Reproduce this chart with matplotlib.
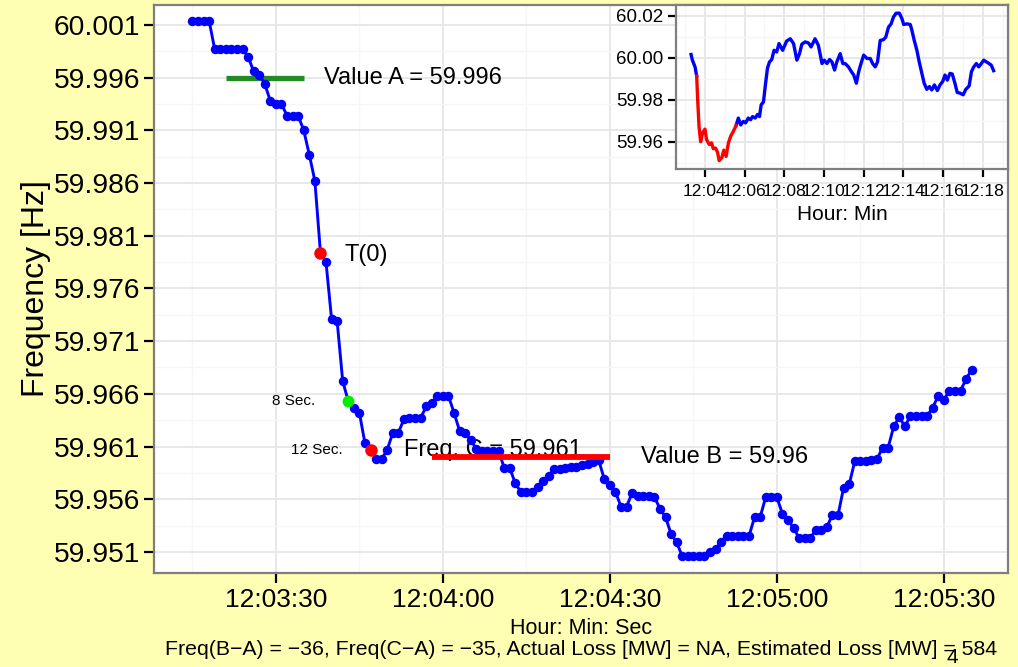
import numpy as np
import matplotlib
matplotlib.use('Agg')
import matplotlib.pyplot as plt
from matplotlib.ticker import FixedLocator, FuncFormatter


# main trace: one sample per second starting 12:03:15
main_start = 12*3600 + 3*60 + 15
main_freq = [
    60.0014, 60.0014, 60.0014, 60.0014, 59.9987, 59.9987, 59.9987, 59.9987, 59.9987, 59.9987,
    59.9980, 59.9966, 59.9963, 59.9954, 59.9938, 59.9935, 59.9935, 59.9924, 59.9924, 59.9924,
    59.9910, 59.9887, 59.9862, 59.9794, 59.9785, 59.9731, 59.9729, 59.9672, 59.9653, 59.9647,
    59.9642, 59.9613, 59.9607, 59.9598, 59.9598, 59.9607, 59.9623, 59.9623, 59.9636, 59.9637,
    59.9637, 59.9637, 59.9648, 59.9651, 59.9658, 59.9658, 59.9658, 59.9642, 59.9625, 59.9623,
    59.9616, 59.9608, 59.9606, 59.9606, 59.9606, 59.9606, 59.9590, 59.9590, 59.9575, 59.9567,
    59.9567, 59.9567, 59.9572, 59.9577, 59.9582, 59.9589, 59.9589, 59.9590, 59.9591, 59.9591,
    59.9592, 59.9593, 59.9595, 59.9597, 59.9579, 59.9573, 59.9567, 59.9553, 59.9553, 59.9566,
    59.9563, 59.9563, 59.9563, 59.9562, 59.9551, 59.9543, 59.9527, 59.9519, 59.9506, 59.9506,
    59.9506, 59.9506, 59.9506, 59.9510, 59.9513, 59.9519, 59.9525, 59.9525, 59.9525, 59.9525,
    59.9525, 59.9543, 59.9543, 59.9562, 59.9562, 59.9562, 59.9546, 59.9540, 59.9533, 59.9523,
    59.9523, 59.9523, 59.9531, 59.9531, 59.9534, 59.9545, 59.9545, 59.9571, 59.9574, 59.9596,
    59.9596, 59.9596, 59.9597, 59.9598, 59.9609, 59.9609, 59.9629, 59.9638, 59.9629, 59.9639,
    59.9639, 59.9639, 59.9639, 59.9647, 59.9658, 59.9654, 59.9663, 59.9663, 59.9663, 59.9674,
    59.9683,
]

# highlighted samples (seconds after 12:03:15)
t0_idx = 23
sec8_idx = 28
sec12_idx = 32

value_a = 59.996
value_b = 59.96
freq_c = 59.961
value_a_span = ['12:03:21', '12:03:35']
value_b_span = ['12:03:58', '12:04:30']

# overview trace (seconds after 12:04:00)
inset_sec = [
    -42, -38, -30, -25, -22, -18, -13, -7, 0, 5, 13, 20, 25, 32, 38, 43, 51, 57, 64, 71,
    78, 86, 94, 101, 108, 116, 123, 131, 138, 144, 152, 159, 165, 170, 177, 182, 189, 195, 202, 209,
    217, 224, 235, 247, 258, 268, 278, 286, 293, 303, 313, 321, 333, 343, 354, 361, 369, 377, 384, 392,
    399, 409, 417, 424, 434, 443, 450, 458, 465, 472, 480, 490, 500, 507, 515, 522, 530, 540, 547, 555,
    563, 570, 578, 588, 596, 601, 611, 621, 626, 633, 641, 648, 656, 663, 671, 679, 686, 694, 703, 711,
    719, 726, 733, 741, 748, 756, 763, 771, 781, 789, 799, 806, 813, 821, 828, 836, 843, 851, 859, 866,
    873,
]
inset_freq = [
    60.0016, 59.9989, 59.9957, 59.9913, 59.9800, 59.9674, 59.9600, 59.9643, 59.9660, 59.9610,
    59.9587, 59.9595, 59.9567, 59.9570, 59.9550, 59.9510, 59.9524, 59.9560, 59.9530, 59.9595,
    59.9627, 59.9650, 59.9677, 59.9713, 59.9680, 59.9697, 59.9690, 59.9713, 59.9705, 59.9720,
    59.9713, 59.9730, 59.9720, 59.9776, 59.9790, 59.9860, 59.9950, 59.9980, 59.9992, 60.0036,
    60.0028, 60.0068, 60.0036, 60.0080, 60.0091, 60.0068, 59.9989, 60.0020, 60.0065, 60.0076,
    60.0071, 60.0052, 60.0091, 60.0060, 59.9973, 59.9989, 59.9973, 59.9992, 59.9981, 59.9942,
    59.9981, 60.0020, 59.9973, 59.9973, 59.9957, 59.9934, 59.9918, 59.9879, 59.9934, 59.9973,
    60.0013, 59.9997, 59.9997, 59.9973, 59.9957, 59.9981, 60.0083, 60.0087, 60.0099, 60.0146,
    60.0162, 60.0194, 60.0213, 60.0213, 60.0186, 60.0159, 60.0162, 60.0159, 60.0131, 60.0083,
    60.0036, 59.9981, 59.9926, 59.9879, 59.9850, 59.9863, 59.9847, 59.9871, 59.9844, 59.9871,
    59.9887, 59.9918, 59.9894, 59.9926, 59.9923, 59.9879, 59.9835, 59.9832, 59.9824, 59.9850,
    59.9866, 59.9934, 59.9957, 59.9973, 59.9957, 59.9973, 59.9989, 59.9981, 59.9973, 59.9965,
    59.9939,
]
inset_red_from = -25
inset_red_to = 94

main_xticks = ['12:03:30', '12:04:00', '12:04:30', '12:05:00', '12:05:30']
main_yticks = [60.001, 59.996, 59.991, 59.986, 59.981, 59.976, 59.971, 59.966, 59.961, 59.956, 59.951]
inset_xticks = ['12:04', '12:06', '12:08', '12:10', '12:12', '12:14', '12:16', '12:18']
inset_yticks = [60.02, 60.00, 59.98, 59.96]

caption = ('Freq(B\u2212A) = \u221236, Freq(C\u2212A) = \u221235, Actual Loss [MW] = NA, '
           'Estimated Loss [MW] = 584')


def to_sec(s):
    
    parts = [int(p) for p in s.split(':')]
    
    if len(parts) == 2:
        
        parts.append(0)
    
    return parts[0]*3600 + parts[1]*60 + parts[2]


def fmt_hms(v, pos=None):
    
    v = int(round(v))
    return f'{v // 3600}:{(v % 3600) // 60:02d}:{v % 60:02d}'


def fmt_hm(v, pos=None):
    
    v = int(round(v))
    return f'{v // 3600}:{(v % 3600) // 60:02d}'


def style_panel(ax):
    
    ax.set_facecolor('white')
    
    for sp in ax.spines.values():
        
        sp.set_color('#7f7f7f')
        sp.set_linewidth(1.6)
    
    ax.grid(True, which='major', color='#e6e6e6', linewidth=1.3, zorder=0)
    ax.grid(True, which='minor', color='#f6f6f6', linewidth=1.0, zorder=0)
    ax.set_axisbelow(True)
    
    return


plt.rcParams['font.family'] = ['Liberation Sans', 'DejaVu Sans']
bg = '#ffffb3'

fig = plt.figure(figsize=(10.18, 6.67), dpi=100)
fig.patch.set_facecolor(bg)

ax = fig.add_axes([0.1513, 0.141, 0.8387, 0.8515])
style_panel(ax)

t_main = main_start + np.arange(len(main_freq))
ax.plot(t_main, main_freq, color='#0000ff', linewidth=2.1, marker='o', markersize=5.8, zorder=3)

ax.plot([to_sec(v) for v in value_a_span], [value_a, value_a], color='#228b22', linewidth=3.8,
        solid_capstyle='butt', zorder=2)
ax.plot([to_sec(v) for v in value_b_span], [value_b, value_b], color='#ff0000', linewidth=4.2,
        solid_capstyle='butt', zorder=4)

ax.plot(t_main[t0_idx], main_freq[t0_idx], 'o', color='#ff0000', markersize=8, zorder=5)
ax.plot(t_main[sec8_idx], main_freq[sec8_idx], 'o', color='#00ee00', markersize=7.5, zorder=5)
ax.plot(t_main[sec12_idx], main_freq[sec12_idx], 'o', color='#ff0000', markersize=8, zorder=5)

ax.text(to_sec('12:03:38') + 0.6, value_a, f'Value A = {value_a}', fontsize=17,
        va='center', ha='left')
ax.text(t_main[t0_idx] + 4.3, main_freq[t0_idx] - 0.0002, 'T(0)', fontsize=17, va='center', ha='left')
ax.text(t_main[sec8_idx] - 6.0, main_freq[sec8_idx], '8 Sec.', fontsize=11, va='center', ha='right')
ax.text(t_main[sec12_idx] - 5.0, main_freq[sec12_idx], '12 Sec.', fontsize=11, va='center', ha='right')
ax.text(t_main[sec12_idx] + 6.0, main_freq[sec12_idx], f'Freq. C = {freq_c}', fontsize=17,
        va='center', ha='left', zorder=1)
ax.text(to_sec('12:04:35') + 0.6, value_b, f'Value B = {value_b}', fontsize=17, va='center', ha='left')

ax.set_xlim(188.1 + 12*3600, 341.5 + 12*3600)
ax.set_ylim(59.949, 60.0029)
ax.xaxis.set_major_locator(FixedLocator([to_sec(v) for v in main_xticks]))
ax.xaxis.set_minor_locator(FixedLocator([to_sec(v) - 15 for v in main_xticks] + [to_sec(main_xticks[-1]) + 15]))
ax.xaxis.set_major_formatter(FuncFormatter(fmt_hms))
ax.yaxis.set_major_locator(FixedLocator(main_yticks))
ax.yaxis.set_minor_locator(FixedLocator([v + 0.0025 for v in main_yticks]))
ax.set_yticklabels([f'{v:.3f}' for v in main_yticks])
ax.tick_params(axis='both', which='major', length=7, width=1.6, color='black')
ax.tick_params(axis='both', which='minor', length=0)
ax.tick_params(axis='y', labelsize=20.3, pad=3)
ax.tick_params(axis='x', labelsize=19, pad=4)

fig.text(0.035, 0.567, 'Frequency [Hz]', rotation=90, fontsize=23, ha='center', va='center')
fig.text(0.571, 0.058, 'Hour: Min: Sec', fontsize=15.5, ha='center', va='center')
fig.text(0.571, 0.026, caption, fontsize=15.3, ha='center', va='center')
fig.text(0.935, 0.014, '4', fontsize=15, ha='center', va='center')

# inset overview
axi = fig.add_axes([0.664, 0.7466, 0.326, 0.2459])
style_panel(axi)

t_in = np.array(inset_sec) + to_sec('12:04')
f_in = np.array(inset_freq)
sec_in = np.array(inset_sec)
red = (sec_in >= inset_red_from) & (sec_in <= inset_red_to)
before = sec_in <= inset_red_from
after = sec_in >= inset_red_to

axi.plot(t_in[before], f_in[before], color='#0000ff', linewidth=2.4, zorder=3)
axi.plot(t_in[after], f_in[after], color='#0000ff', linewidth=2.4, zorder=3)
axi.plot(t_in[red], f_in[red], color='#ff0000', linewidth=2.4, zorder=3)

axi.set_xlim(to_sec('12:04') - 87.7, to_sec('12:04') + 916)
axi.set_ylim(59.947, 60.0252)
axi.xaxis.set_major_locator(FixedLocator([to_sec(v) for v in inset_xticks]))
axi.xaxis.set_minor_locator(FixedLocator([to_sec(v) - 60 for v in inset_xticks] + [to_sec(inset_xticks[-1]) + 60]))
axi.xaxis.set_major_formatter(FuncFormatter(fmt_hm))
axi.yaxis.set_major_locator(FixedLocator(inset_yticks))
axi.yaxis.set_minor_locator(FixedLocator([v + 0.01 for v in inset_yticks] + [inset_yticks[-1] - 0.01]))
axi.set_yticklabels([f'{v:.2f}' for v in inset_yticks])
axi.tick_params(axis='both', which='major', length=6, width=1.6, color='black')
axi.tick_params(axis='both', which='minor', length=0)
axi.tick_params(axis='y', labelsize=13.5, pad=3)
axi.tick_params(axis='x', labelsize=12.6, pad=5)

axi.set_xlabel('Hour: Min', fontsize=15, labelpad=4)

fig.savefig('out.png', dpi=100, facecolor=bg)
plt.close(fig)
